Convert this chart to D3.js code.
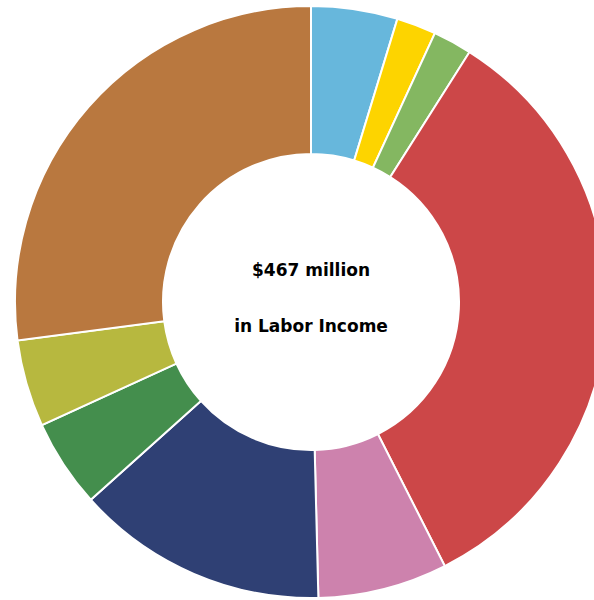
<!DOCTYPE html>
<html>
<head>
<meta charset="utf-8">
<script src="https://cdn.jsdelivr.net/npm/d3@7"></script>
<style>
  html, body { margin: 0; padding: 0; background: #fff; overflow: hidden; }
  svg { display: block; }
</style>
</head>
<body>
<div id="chart"></div>
<script>
// labor income by sector, $ millions
var sectors = ["Sector A", "Sector B", "Sector C", "Sector D", "Sector E",
               "Sector F", "Sector G", "Sector H", "Sector I"];
var values = [22.0, 10.1, 9.9, 156.6, 33.0, 64.2, 22.5, 22.2, 126.4];
var colors = ["#67b7dc", "#fdd400", "#84b761", "#cc4748", "#cd82ad",
              "#2f4074", "#448e4d", "#b7b83f", "#b9783f"];
var centerLines = ["$467 million", "in Labor Income"];

var width = 594, height = 600;
var cx = 311, cy = 302;
var outer = 296, inner = 148;

var svg = d3.select("#chart").append("svg")
    .attr("width", width)
    .attr("height", height);

var g = svg.append("g").attr("transform", "translate(" + cx + "," + cy + ")");

var data = sectors.map(function(s, i) { return { name: s, value: values[i], color: colors[i] }; });

var pie = d3.pie()
    .value(function(d) { return d.value; })
    .sort(null);

var arc = d3.arc()
    .innerRadius(inner)
    .outerRadius(outer);

g.selectAll("path")
    .data(pie(data))
    .enter().append("path")
    .attr("d", arc)
    .attr("fill", function(d) { return d.data.color; })
    .attr("stroke", "#fff")
    .attr("stroke-width", 2);

g.selectAll("text.center")
    .data(centerLines)
    .enter().append("text")
    .attr("class", "center")
    .attr("x", 0)
    .attr("y", function(d, i) { return -26 + i * 56; })
    .attr("text-anchor", "middle")
    .style("font-family", "Verdana, 'DejaVu Sans', sans-serif")
    .style("font-weight", "bold")
    .style("font-size", "17px")
    .attr("fill", "#000")
    .text(function(d) { return d; });
</script>
</body>
</html>
